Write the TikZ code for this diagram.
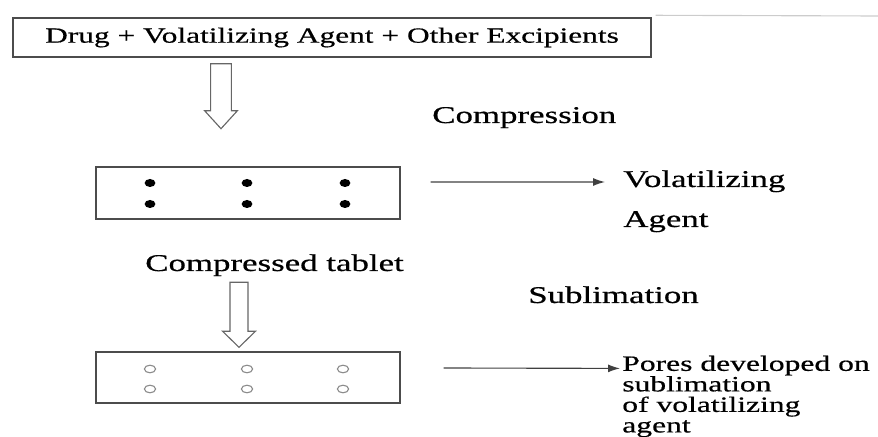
\documentclass[tikz,border=0pt]{standalone}
\usepackage{fontspec}
\usetikzlibrary{arrows.meta, shapes.geometric, calc}
\newfontfamily\widefont[FakeStretch=1.45, FakeBold=0.6]{Liberation Serif}
\tikzset{
    my-box/.style={
        draw=black!70, line width=1pt, shape=rectangle, inner sep=0pt
    },
    my-label/.style={
        font=\widefont\fontsize{17.1pt}{20pt}\selectfont, anchor=base west, inner sep=0pt
    },
    my-note/.style={
        font=\widefont\fontsize{15.5pt}{14.6pt}\selectfont, align=left, anchor=base west, inner sep=0pt
    },
    my-dot/.style={
        fill, shape=ellipse, minimum width=.27cm, minimum height=.2cm, inner sep=0pt
    },
    my-pore/.style={
        draw=black!45, line width=.8pt, shape=ellipse, minimum width=.28cm, minimum height=.19cm, inner sep=0pt
    },
    my-arrow/.style={
        draw=black!75, line width=.8pt, -{Latex[length=3mm, width=2mm]}
    },
    my-hollow/.style={
        draw=black!60, line width=.8pt, line join=miter
    },
}

\begin{document}
\begin{tikzpicture}

        % PAGE ----------------------------------------------------------------------------------------
        \useasboundingbox (0, 0) rectangle (21.95, -10.925);

        % STARTING MIXTURE ----------------------------------------------------------------------------
        \node[my-box, minimum width=15.95cm, minimum height=.975cm] (MIX) at (8.3, -.9375)
            {\widefont\fontsize{15.4pt}{18pt}\selectfont Drug + Volatilizing Agent + Other Excipients};
        \coordinate[] (EDGESTART) at ($(MIX.north east) + (.1, .05)$) {};
        \coordinate[] (EDGEEND)   at (21.95, -.4)                      {};
        \draw[black!20, line width=.8pt] (EDGESTART) -- (EDGEEND);

        % HOLLOW ARROW 1
        \coordinate[] (HA1TOP) at ($(MIX.south) + (-2.775, -.15)$) {};
        \coordinate[] (HA1TIP) at ($(HA1TOP) + (0, -1.625)$)       {};
        \draw[my-hollow] ($(HA1TOP) + (-.26, 0)$) -- ($(HA1TIP) + (-.26, .45)$) -- ($(HA1TIP) + (-.41, .45)$)
            -- (HA1TIP) -- ($(HA1TIP) + (.41, .45)$) -- ($(HA1TIP) + (.26, .45)$) -- ($(HA1TOP) + (.26, 0)$) -- cycle;
        \node[my-label] (COMPRESSION) at (10.8, -3.075) {Compression};

        % COMPRESSED TABLET ---------------------------------------------------------------------------
        \node[my-box, minimum width=7.6cm, minimum height=1.3cm] (TAB1) at (6.2, -4.825) {};
        \node[my-dot] (DOT1) at ($(TAB1) + (-2.45, .25)$)  {};
        \node[my-dot] (DOT2) at ($(TAB1) + (-2.45, -.275)$) {};
        \node[my-dot] (DOT3) at ($(TAB1) + (-.025, .25)$)  {};
        \node[my-dot] (DOT4) at ($(TAB1) + (-.025, -.275)$) {};
        \node[my-dot] (DOT5) at ($(TAB1) + (2.425, .25)$)  {};
        \node[my-dot] (DOT6) at ($(TAB1) + (2.425, -.275)$) {};
        \node[my-label] (TABLET) at (3.625, -6.775) {Compressed tablet};

        % VOLATILIZING AGENT
        \node[my-label] (VOL)   at (15.575, -4.675) {Volatilizing};
        \node[my-label] (AGENT) at (15.575, -5.675) {Agent};
        \coordinate[] (ARR1START) at ($(TAB1.east) + (.75, .275)$) {};
        \coordinate[] (ARR1END)   at ($(VOL.base west) + (-.45, .125)$) {};
        \draw[my-arrow] (ARR1START) -- (ARR1END);

        % HOLLOW ARROW 2
        \node[my-label] (SUBLIMATION) at (13.2, -7.575) {Sublimation};

        % POROUS TABLET -------------------------------------------------------------------------------
        \node[my-box, minimum width=7.6cm, minimum height=1.275cm] (TAB2) at (6.2, -9.4375) {};
        \node[my-pore] (PORE1) at ($(TAB2) + (-2.45, .2125)$)  {};
        \node[my-pore] (PORE2) at ($(TAB2) + (-2.45, -.2875)$) {};
        \node[my-pore] (PORE3) at ($(TAB2) + (-.025, .2125)$)  {};
        \node[my-pore] (PORE4) at ($(TAB2) + (-.025, -.2875)$) {};
        \node[my-pore] (PORE5) at ($(TAB2) + (2.375, .2125)$)  {};
        \node[my-pore] (PORE6) at ($(TAB2) + (2.375, -.2875)$) {};

        \coordinate[] (HA2TIP) at ($(TAB2.north) + (-.225, .1)$) {};
        \coordinate[] (HA2TOP) at ($(HA2TIP) + (0, 1.625)$)      {};
        \draw[my-hollow] ($(HA2TOP) + (-.225, 0)$) -- ($(HA2TIP) + (-.225, .4)$) -- ($(HA2TIP) + (-.41, .4)$)
            -- (HA2TIP) -- ($(HA2TIP) + (.41, .4)$) -- ($(HA2TIP) + (.225, .4)$) -- ($(HA2TOP) + (.225, 0)$) -- cycle;

        % PORES (BASE = LAST LINE)
        \node[my-note] (PORES) at (15.55, -10.81)
            {Pores developed on\\ sublimation\\ of volatilizing\\ agent};
        \coordinate[] (ARR2START) at ($(TAB2.east) + (1.075, .2375)$)  {};
        \coordinate[] (ARR2END)   at ($(PORES.base west) + (-.05, 1.6)$) {};
        \draw[my-arrow] (ARR2START) -- (ARR2END);

\end{tikzpicture}
\end{document}
